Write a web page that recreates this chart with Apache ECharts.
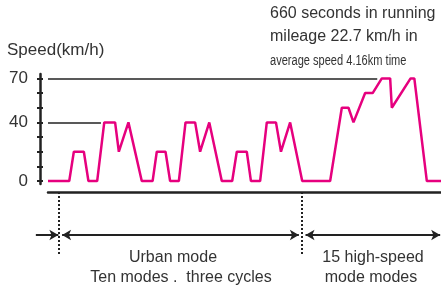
<!DOCTYPE html>
<html>
  <head>
    <meta charset="utf-8" />
    <title>ECharts</title>
    <script src="https://cdn.jsdelivr.net/npm/echarts@6/dist/echarts.min.js"></script>
  </head>
  <body style="margin:0">
    <div id="main" style="width: 441px;height:288px;"></div>
    <script type="text/javascript">
      // time (s) and speed (km/h)
      var times = [0, 51, 62, 86, 97, 118, 135, 161, 170, 193, 225, 251, 261, 282, 293, 314, 330, 353, 365, 387,
                   417, 442, 453, 477, 487, 509, 525, 547, 559, 581, 610, 677, 705, 721, 733, 761, 779, 801, 821, 825,
                   870, 879, 909, 943];
      var speeds = [0, 0, 20, 20, 0, 0, 40, 40, 20, 40, 0, 0, 20, 20, 0, 0, 40, 40, 20, 40,
                    0, 0, 20, 20, 0, 0, 40, 40, 20, 40, 0, 0, 50, 50, 40, 60, 60, 70, 70, 50,
                    70, 70, 0, 0];
      var yTicks = [0, 10, 20, 30, 40, 50, 60, 70];
      var yLabels = [0, 40, 70];
      var modeBounds = [26, 610];   // start of urban part, start of high-speed part

      var myChart = echarts.init(document.getElementById('main'));
      var ink = '#222';
      var txt = '#333';
      var font = 'Liberation Sans, Arial, sans-serif';

      var data = times.map(function (t, i) { return [t, speeds[i]]; });

      option = {
        animation: false,
        grid: [
          { left: 48, right: 0, top: 74, height: 110 },
          { left: 0, right: 0, top: 192, height: 63 }
        ],
        xAxis: [
          {
            type: 'value', gridIndex: 0, min: 0, max: 943, offset: 8,
            axisLine: { onZero: false, lineStyle: { color: ink, width: 2.5 } },
            axisTick: { show: false }, axisLabel: { show: false }, splitLine: { show: false }
          },
          { type: 'value', gridIndex: 1, min: -115, max: 943, show: false }
        ],
        yAxis: [
          {
            type: 'value', gridIndex: 0, min: -2, max: 73, offset: 8,
            axisLine: { show: true, onZero: false, lineStyle: { color: ink, width: 2.5 } },
            axisTick: { show: true, length: 3, customValues: yTicks, lineStyle: { color: ink, width: 2 } },
            axisLabel: { customValues: yLabels, margin: 12, color: txt, fontSize: 17, fontFamily: font },
            splitLine: { show: false }
          },
          {
            type: 'value', gridIndex: 0, min: -2, max: 73, offset: 8, position: 'left',
            axisLine: { show: false, onZero: false },
            axisTick: { show: true, inside: true, length: 3, customValues: yTicks, lineStyle: { color: ink, width: 2 } },
            axisLabel: { show: false }, splitLine: { show: false }
          },
          { type: 'value', gridIndex: 1, min: 0, max: 63, inverse: true, show: false }
        ],
        series: [
          {
            type: 'line', xAxisIndex: 0, yAxisIndex: 0,
            data: data, showSymbol: false,
            lineStyle: { color: '#e6007e', width: 2.5 },
            markLine: {
              silent: true, symbol: 'none', label: { show: false },
              lineStyle: { color: ink, width: 1.5, type: 'solid' },
              data: [
                [{ coord: [0, 70] }, { coord: [790, 70] }],
                [{ coord: [0, 40] }, { coord: [127, 40] }]
              ]
            }
          },
          {
            type: 'line', xAxisIndex: 1, yAxisIndex: 2, data: [],
            markLine: {
              silent: true, label: { show: false }, symbolSize: [8, 9],
              lineStyle: { color: ink, width: 2, type: 'solid' },
              data: [
                [{ coord: [modeBounds[0], 0], symbol: 'none', lineStyle: { type: [2, 2], width: 2 } },
                 { coord: [modeBounds[0], 63], symbol: 'none' }],
                [{ coord: [modeBounds[1], 0], symbol: 'none', lineStyle: { type: [2, 2], width: 2 } },
                 { coord: [modeBounds[1], 63], symbol: 'none' }],
                [{ coord: [-29, 43], symbol: 'none' }, { coord: [modeBounds[0] - 1, 43], symbol: 'arrow' }],
                [{ coord: [modeBounds[0] + 8, 43], symbol: 'arrow' }, { coord: [modeBounds[1] - 8, 43], symbol: 'arrow' }],
                [{ coord: [modeBounds[1] + 8, 43], symbol: 'arrow' }, { coord: [941, 43], symbol: 'arrow' }]
              ]
            }
          }
        ],
        graphic: [
          { type: 'text', left: 7, top: 42, style: { text: 'Speed(km/h)', fill: txt, font: '17px ' + font } },
          { type: 'text', left: 270, top: 6, style: { text: '660 seconds in running', fill: txt, font: '16px ' + font } },
          { type: 'text', left: 270, top: 29, style: { text: 'mileage 22.7 km/h in', fill: txt, font: '16px ' + font } },
          { type: 'text', x: 270, y: 61, scaleX: 0.79, style: { text: 'average speed 4.16km time', fill: txt, font: '14px ' + font, verticalAlign: 'middle' } },
          { type: 'text', x: 173, y: 258, style: { text: 'Urban mode', fill: txt, font: '16px ' + font, align: 'center', verticalAlign: 'middle' } },
          { type: 'text', x: 181, y: 278, style: { text: 'Ten modes .  three cycles', fill: txt, font: '16px ' + font, align: 'center', verticalAlign: 'middle' } },
          { type: 'text', x: 373, y: 258, style: { text: '15 high-speed', fill: txt, font: '16px ' + font, align: 'center', verticalAlign: 'middle' } },
          { type: 'text', x: 371, y: 278, style: { text: 'mode modes', fill: txt, font: '16px ' + font, align: 'center', verticalAlign: 'middle' } }
        ]
      };
      myChart.setOption(option);
    </script>
  </body>
</html>
